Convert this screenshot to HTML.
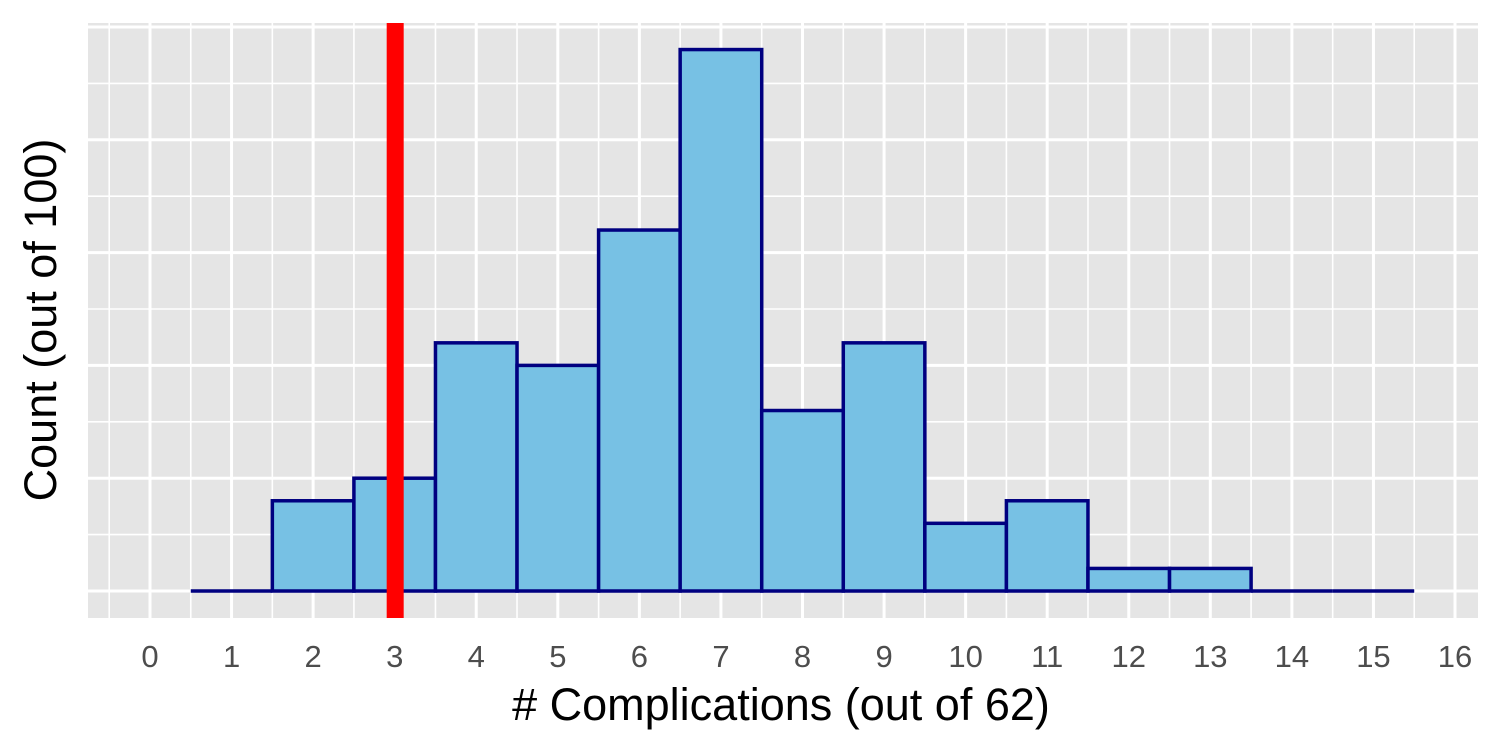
<!DOCTYPE html>
<html><head><meta charset="utf-8"><style>
html,body{margin:0;padding:0;background:#fff;}
svg{display:block;font-family:"Liberation Sans",Arial,sans-serif;}
</style></head><body>
<svg id="chart" width="1500" height="750" viewBox="0 0 1500 750">
<rect x="88" y="23" width="1390" height="595" fill="#e5e5e5"/>
<g id="grid"></g>
<g id="bars"></g>
<g id="xlabels"></g>
<text x="781" y="720" font-size="45" text-anchor="middle" fill="#000"># Complications (out of 62)</text>
<text transform="translate(56,320) rotate(-90)" font-size="45" text-anchor="middle" fill="#000">Count (out of 100)</text>
</svg>
<script>
const categories=[1,2,3,4,5,6,7,8,9,10,11,12,13,14,15];
const counts=[0,4,5,11,10,16,24,8,11,3,4,1,1,0,0];
const xTicks=[0,1,2,3,4,5,6,7,8,9,10,11,12,13,14,15,16];
const refValue=[3];
const NS="http://www.w3.org/2000/svg";
const L=88,R=1478,T=23,B=618;
function xs(v){return 150+(v)*81.5625;}
function ys(c){return 591-c*22.56;}
function mk(tag,attrs,parent){const e=document.createElementNS(NS,tag);for(const k in attrs)e.setAttribute(k,attrs[k]);parent.appendChild(e);return e;}
const grid=document.getElementById('grid');
for(let c=-2.5;c<=25;c+=2.5){const y=ys(c);if(y<T||y>B)continue;const major=Math.abs(c/5-Math.round(c/5))<1e-6;
const l=mk('line',{x1:L,x2:R,y1:y,y2:y,stroke:'#fff','stroke-width':major?3:1.6},grid);

}
for(let v=-0.5;v<=16.5;v+=0.5){const x=xs(v);if(x<L||x>R)continue;const major=Number.isInteger(v);
const l=mk('line',{x1:x,x2:x,y1:T,y2:B,stroke:'#fff','stroke-width':major?3:1.6},grid);

}
const bars=document.getElementById('bars');
categories.forEach((c,i)=>{const x0=xs(c-0.5),x1=xs(c+0.5),y=ys(counts[i]);
let r;
if(counts[i]>0){
r=mk('rect',{x:x0,y:y,width:x1-x0,height:ys(0)-y,fill:'#77c1e4',stroke:'#000080','stroke-width':3.5},bars);
}else{
r=mk('line',{x1:x0,x2:x1,y1:ys(0),y2:ys(0),stroke:'#000080','stroke-width':3.5},bars);
}

});
const red=mk('rect',{x:xs(refValue[0])-8,y:T,width:17,height:B-T,fill:'#ff0000'},bars);


const xl=document.getElementById('xlabels');
xTicks.forEach(t=>{const e=mk('text',{x:xs(t),y:667,'font-size':31,'text-anchor':'middle',fill:'#4d4d4d'},xl);e.textContent=t;

});
</script>
</body></html>
